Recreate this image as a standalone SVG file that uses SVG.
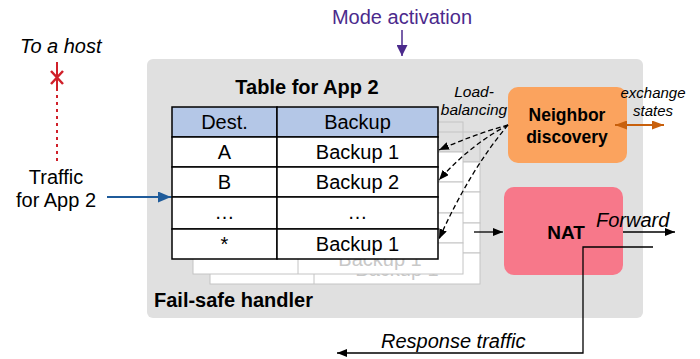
<svg xmlns="http://www.w3.org/2000/svg" width="700" height="359" viewBox="0 0 700 359">
<style>
text{font-family:"Liberation Sans",Arial,sans-serif;fill:#000}
.it{font-style:italic}
.b{font-weight:bold}
.c{text-anchor:middle}
.t20{font-size:20px}
.cell{fill:#fff;stroke:#000;stroke-width:1.5}
.hdr{fill:#b4c7e7;stroke:#000;stroke-width:1.5}
.bg{fill:#fff;stroke:#c4c4c4;stroke-width:1}
.bgh{fill:none;stroke:#c4c4c4;stroke-width:1}
.faint{fill:#c8c8c8;font-size:20px}
</style>
<defs>
<marker id="ah" markerUnits="userSpaceOnUse" markerWidth="10" markerHeight="8" refX="10" refY="4" orient="auto"><path d="M0,0 L10,4 L0,8 z" fill="#000"/></marker>
<marker id="ahb" markerUnits="userSpaceOnUse" markerWidth="13" markerHeight="11" refX="13" refY="5.5" orient="auto"><path d="M0,0 L13,5.5 L0,11 z" fill="#1f5b9a"/></marker>
<marker id="ahp" markerUnits="userSpaceOnUse" markerWidth="12" markerHeight="11" refX="11" refY="5.5" orient="auto"><path d="M0,0 L11,5.5 L0,11 z" fill="#4b2a8c"/></marker>
<marker id="aho" markerUnits="userSpaceOnUse" markerWidth="12" markerHeight="9" refX="12" refY="4.5" orient="auto-start-reverse"><path d="M0,0 L12,4.5 L0,9 z" fill="#c8600c"/></marker>
</defs>

<g id="container">
<rect x="147" y="59" width="496" height="259" rx="6" fill="#e0e0e0"/>
<text class="b t20" x="154" y="307">Fail-safe handler</text>
</g>

<g id="mode-activation">
<text x="402" y="24" class="c t20" style="fill:#4b2a8c">Mode activation</text>
</g>

<g id="to-host">
<text class="it t20" x="20" y="53">To a host</text>
<path d="M57,62 V88" stroke="#d0202a" stroke-width="2"/>
<path d="M51,71 L63,84 M63,71 L51,84" stroke="#d0202a" stroke-width="2.5"/>
</g>

<g id="traffic-label">
<text class="c t20" x="56" y="184">Traffic</text>
<text class="c t20" x="56" y="207">for App 2</text>
</g>

<g id="table-back2">
<rect class="bgh" x="210" y="132" width="270" height="30"/>
<rect class="bg" x="210" y="162" width="270" height="30"/>
<rect class="bg" x="210" y="192" width="270" height="31"/>
<rect class="bg" x="210" y="223" width="270" height="30"/>
<rect class="bg" x="210" y="253" width="270" height="31"/>
<line x1="314" y1="132" x2="314" y2="284" stroke="#c4c4c4"/>
<text class="faint c" x="397" y="276">Backup 1</text>
</g>

<g id="table-back1">
<rect class="bgh" x="193" y="122" width="270" height="30"/>
<rect class="bg" x="193" y="152" width="270" height="30"/>
<rect class="bg" x="193" y="182" width="270" height="31"/>
<rect class="bg" x="193" y="213" width="270" height="30"/>
<rect class="bg" x="193" y="243" width="270" height="31"/>
<line x1="298" y1="122" x2="298" y2="274" stroke="#c4c4c4"/>
<text class="faint c" x="380" y="266">Backup 1</text>
</g>

<g id="table-app2">
<text class="b t20 c" x="307" y="94">Table for App 2</text>
<rect class="hdr" x="172" y="107" width="105" height="30"/>
<rect class="hdr" x="277" y="107" width="161" height="30"/>
<rect class="cell" x="172" y="137" width="105" height="30"/>
<rect class="cell" x="277" y="137" width="161" height="30"/>
<rect class="cell" x="172" y="167" width="105" height="30"/>
<rect class="cell" x="277" y="167" width="161" height="30"/>
<rect class="cell" x="172" y="197" width="105" height="32"/>
<rect class="cell" x="277" y="197" width="161" height="32"/>
<rect class="cell" x="172" y="229" width="105" height="30"/>
<rect class="cell" x="277" y="229" width="161" height="30"/>
<text class="c t20" x="224.5" y="129">Dest.</text>
<text class="c t20" x="357.5" y="129">Backup</text>
<text class="c t20" x="224.5" y="159">A</text>
<text class="c t20" x="357.5" y="159">Backup 1</text>
<text class="c t20" x="224.5" y="189">B</text>
<text class="c t20" x="357.5" y="189">Backup 2</text>
<text class="c t20" x="224.5" y="219">…</text>
<text class="c t20" x="357.5" y="219">…</text>
<text class="c t20" x="224.5" y="251">*</text>
<text class="c t20" x="357.5" y="251">Backup 1</text>
</g>

<g id="neighbor-discovery">
<rect x="508" y="87" width="119" height="76" rx="10" fill="#fba35e"/>
<text class="b c" style="font-size:17.5px" x="567" y="121">Neighbor</text>
<text class="b c" style="font-size:17.5px" x="567" y="143">discovery</text>
</g>

<g id="nat">
<rect x="504" y="187" width="119" height="88" rx="10" fill="#f7788a"/>
<text class="b c" style="font-size:19px" x="566" y="239">NAT</text>
</g>

<g id="labels">
<text class="it c" style="font-size:15.5px" x="474" y="97">Load-</text>
<text class="it c" style="font-size:15.5px" x="474" y="115">balancing</text>
<text class="it c" style="font-size:15px" x="653" y="98">exchange</text>
<text class="it c" style="font-size:15px" x="653" y="116">states</text>
<text class="it t20" x="596" y="227">Forward</text>
<text class="it t20" x="381" y="348">Response traffic</text>
</g>

<g id="connectors" fill="none">
<line x1="402" y1="30" x2="402" y2="56" stroke="#4b2a8c" stroke-width="1.5" marker-end="url(#ahp)"/>
<path d="M57,88 V163" stroke="#d0202a" stroke-width="2" stroke-dasharray="3 4"/>
<line x1="107" y1="197" x2="171" y2="197" stroke="#1f5b9a" stroke-width="2" marker-end="url(#ahb)"/>
<path d="M508,125 Q475,134 439,150" stroke="#000" stroke-width="1.3" stroke-dasharray="5 3" marker-end="url(#ah)"/>
<path d="M508,125 Q470,145 439,180" stroke="#000" stroke-width="1.3" stroke-dasharray="5 3" marker-end="url(#ah)"/>
<path d="M508,125 Q470,170 439,239" stroke="#000" stroke-width="1.3" stroke-dasharray="5 3" marker-end="url(#ah)"/>
<line x1="615" y1="125" x2="664" y2="125" stroke="#c8600c" stroke-width="1.8" marker-start="url(#aho)" marker-end="url(#aho)"/>
<line x1="474" y1="232" x2="503" y2="232" stroke="#000" stroke-width="1.3" marker-end="url(#ah)"/>
<line x1="623" y1="232" x2="675" y2="232" stroke="#000" stroke-width="1.3" marker-end="url(#ah)"/>
<polyline points="653,247 583,247 583,353 337,353" stroke="#000" stroke-width="1.3" marker-end="url(#ah)"/>
</g>
</svg>
